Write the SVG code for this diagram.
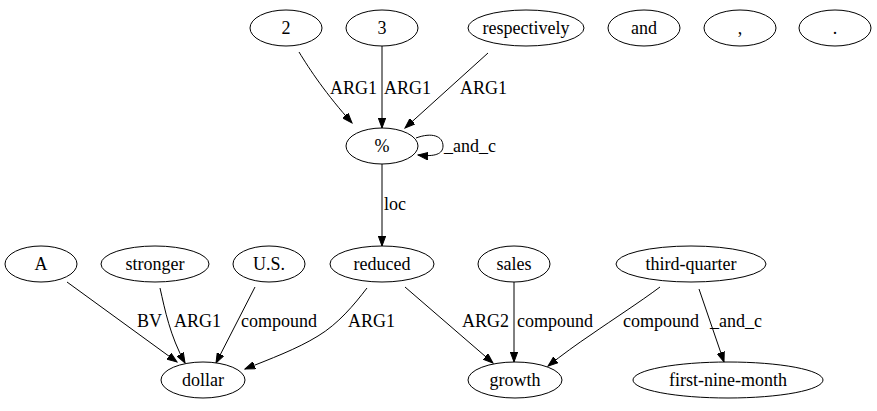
<svg xmlns="http://www.w3.org/2000/svg" width="877" height="411" viewBox="0 0 877 411" font-family="Liberation Serif, Times New Roman, serif" font-size="18">
<defs>
<marker id="ah" markerWidth="11" markerHeight="8" refX="10" refY="4" orient="auto" markerUnits="userSpaceOnUse">
<path d="M0,0.3 L10,4 L0,7.7 z" fill="#000" stroke="#000" stroke-width="1"/>
</marker>
<style>
ellipse{fill:#fff;stroke:#000;stroke-width:1}
text{fill:#000}
.n text{text-anchor:middle}
.e path{fill:none;stroke:#000;stroke-width:1;marker-end:url(#ah)}
</style>
</defs>
<rect width="877" height="411" fill="#fff"/>
<g id="edges" class="e">
<path d="M299,52 C310,70 326,94 352,123"/>
<path d="M382,46 L382,128"/>
<path d="M488,53 L405,128"/>
<path d="M416,138 C432,132 443,136 443,146 C443,154 435,157 418,155"/>
<path d="M382,164 L382,246"/>
<path d="M67,282 L177,362"/>
<path d="M160,288 C165,310 170,336 185,363"/>
<path d="M255,287 L216,363"/>
<path d="M367,288 C354,305 338,324 318,336 C297,349 270,359 245,369"/>
<path d="M405,287 L493,363"/>
<path d="M514,282 L514,362"/>
<path d="M660,287 C640,302 612,320 592,334 C577,344 562,355 548,366"/>
<path d="M699,289 L724,362"/>
<text x="330" y="94">ARG1</text>
<text x="384" y="94">ARG1</text>
<text x="460" y="94">ARG1</text>
<text x="444" y="152">_and_c</text>
<text x="384" y="210">loc</text>
<text x="137" y="327">BV</text>
<text x="174" y="327">ARG1</text>
<text x="241" y="327">compound</text>
<text x="348" y="327">ARG1</text>
<text x="462" y="327">ARG2</text>
<text x="517" y="327">compound</text>
<text x="623" y="327">compound</text>
<text x="710" y="327">_and_c</text>
</g>
<g id="n2" class="n"><ellipse cx="286" cy="28" rx="36" ry="18"/><text x="286" y="34">2</text></g>
<g id="n3" class="n"><ellipse cx="382" cy="28" rx="36" ry="18"/><text x="382" y="34">3</text></g>
<g id="nresp" class="n"><ellipse cx="526" cy="28" rx="58" ry="18"/><text x="526" y="34">respectively</text></g>
<g id="nand" class="n"><ellipse cx="644" cy="28" rx="36" ry="18"/><text x="644" y="34">and</text></g>
<g id="ncomma" class="n"><ellipse cx="740" cy="28" rx="36" ry="18"/><text x="740" y="34">,</text></g>
<g id="ndot" class="n"><ellipse cx="835" cy="28" rx="36" ry="18"/><text x="835" y="34">.</text></g>
<g id="npct" class="n"><ellipse cx="382" cy="146" rx="36" ry="18"/><text x="382" y="152">%</text></g>
<g id="nA" class="n"><ellipse cx="41" cy="264" rx="36" ry="18"/><text x="41" y="270">A</text></g>
<g id="nstronger" class="n"><ellipse cx="155" cy="264" rx="54" ry="18"/><text x="155" y="270">stronger</text></g>
<g id="nus" class="n"><ellipse cx="269" cy="264" rx="36" ry="18"/><text x="269" y="270">U.S.</text></g>
<g id="nreduced" class="n"><ellipse cx="382" cy="264" rx="52" ry="18"/><text x="382" y="270">reduced</text></g>
<g id="nsales" class="n"><ellipse cx="514" cy="264" rx="36" ry="18"/><text x="514" y="270">sales</text></g>
<g id="ntq" class="n"><ellipse cx="691" cy="264" rx="75" ry="18"/><text x="691" y="270">third-quarter</text></g>
<g id="ndollar" class="n"><ellipse cx="203" cy="380" rx="42" ry="18"/><text x="203" y="386">dollar</text></g>
<g id="ngrowth" class="n"><ellipse cx="515" cy="380" rx="47" ry="18"/><text x="515" y="386">growth</text></g>
<g id="nfnm" class="n"><ellipse cx="728" cy="380" rx="95" ry="18"/><text x="728" y="386">first-nine-month</text></g>
</svg>
